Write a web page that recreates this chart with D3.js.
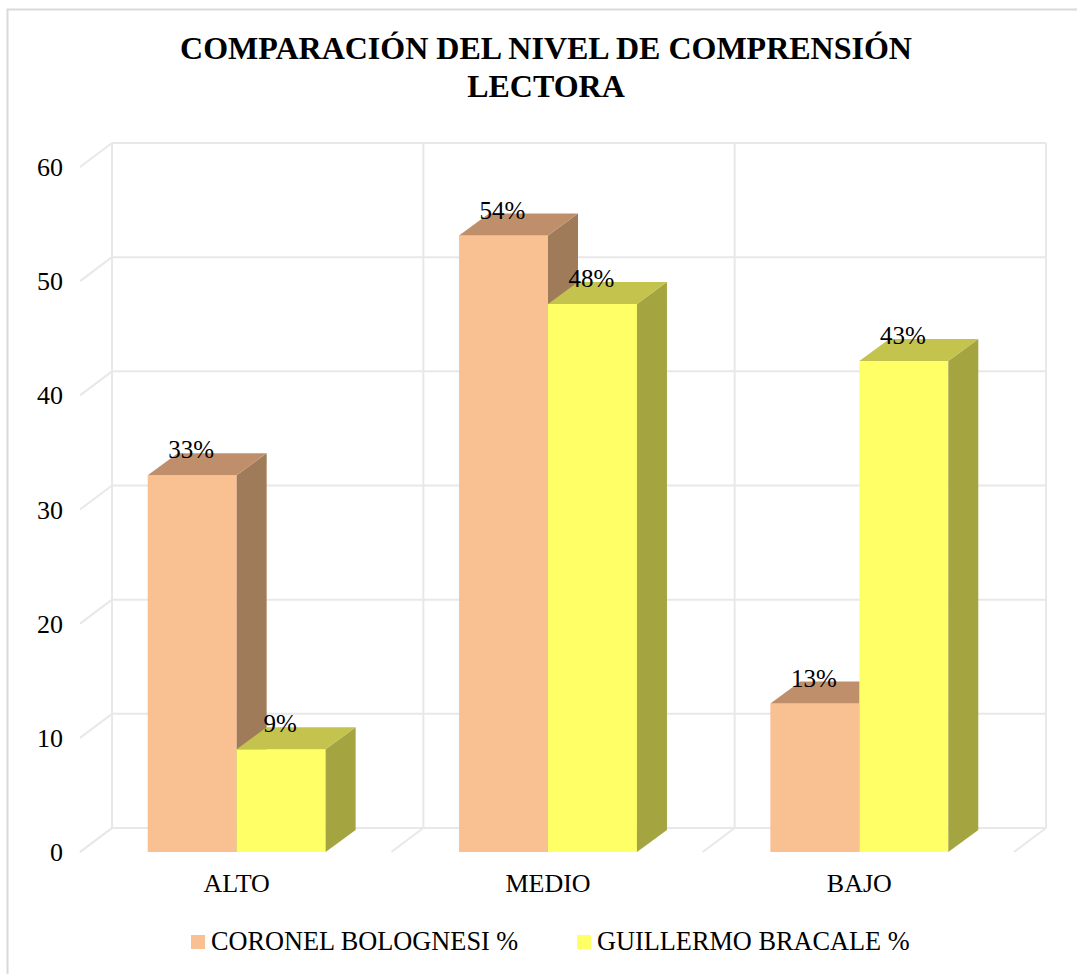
<!DOCTYPE html>
<html>
<head>
<meta charset="utf-8">
<script src="https://cdn.jsdelivr.net/npm/d3@7/dist/d3.min.js"></script>
</head>
<body style="margin:0;background:#fff">
<svg id="chart" width="1077" height="974" font-family="Liberation Serif" style="display:block"></svg>
<script>
// ---- data ----
const categories = ["ALTO", "MEDIO", "BAJO"];
const seriesNames = ["CORONEL BOLOGNESI %", "GUILLERMO BRACALE %"];
const coronelValues = [33, 54, 13];
const guillermoValues = [9, 48, 43];
const yTicks = [0, 10, 20, 30, 40, 50, 60];
const titleLines = ["COMPARACIÓN DEL NIVEL DE COMPRENSIÓN", "LECTORA"];

// ---- styles ----
const palette = [
  { front: "#f9c191", top: "#bf8f6c", side: "#a07b5a" },
  { front: "#ffff66", top: "#c3c34d", side: "#a4a440" }
];
const gridColor = "#e8e8e8";
const FONT = "Liberation Serif";

const svg = d3.select("#chart");

// outer border
svg.append("rect")
  .attr("x", 7.5).attr("y", 9.5)
  .attr("width", 1090).attr("height", 980)
  .attr("fill", "none").attr("stroke", "#d9d9d9").attr("stroke-width", 2);

// scales
const x = d3.scaleBand().domain(categories).range([80, 1014]).padding(0);
const xs = d3.scaleBand().domain(seriesNames).range([0, x.bandwidth()])
  .paddingInner(0).paddingOuter(0.75);
const y = d3.scaleLinear().domain([0, 60]).range([852, 167]);

const DX = 32, DY = -24;   // wall depth
const BDX = 30, BDY = -22; // bar depth

const grid = svg.append("g").attr("stroke", gridColor).attr("stroke-width", 2).attr("fill", "none");

// back wall horizontal gridlines + side wall diagonals
yTicks.forEach(v => {
  grid.append("line")
    .attr("x1", x.range()[0] + DX).attr("x2", x.range()[1] + DX)
    .attr("y1", y(v) + DY).attr("y2", y(v) + DY);
  grid.append("line")
    .attr("x1", x.range()[0]).attr("y1", y(v))
    .attr("x2", x.range()[0] + DX).attr("y2", y(v) + DY);
});

// category boundaries: back wall verticals & floor diagonals
const boundaries = categories.map(c => x(c)).concat([x.range()[1]]);
boundaries.forEach(bx => {
  grid.append("line")
    .attr("x1", bx + DX).attr("x2", bx + DX)
    .attr("y1", y(60) + DY).attr("y2", y(0) + DY);
  grid.append("line")
    .attr("x1", bx).attr("y1", y(0))
    .attr("x2", bx + DX).attr("y2", y(0) + DY);
});

// y tick labels
svg.append("g").selectAll("text").data(yTicks).join("text")
  .attr("x", 63).attr("y", d => y(d) + 9)
  .attr("text-anchor", "end")
  .attr("font-family", FONT)
  .attr("font-size", 26)
  .text(d => d);

// bars
const seriesValues = [coronelValues, guillermoValues];
const barsG = svg.append("g");
categories.forEach((c, ci) => {
  seriesNames.forEach((s, si) => {
    const v = seriesValues[si][ci];
    const x0 = x(c) + xs(s) + 1;
    const x1 = x0 + xs.bandwidth();
    const y0 = y(0), y1 = y(v);
    const col = palette[si];
    const g = barsG.append("g");
    g.append("path")
      .attr("d", `M${x0},${y0}L${x0},${y1}L${x1},${y1}L${x1},${y0}Z`)
      .attr("fill", col.front);
    g.append("path")
      .attr("d", `M${x1},${y0}L${x1},${y1}L${x1 + BDX},${y1 + BDY}L${x1 + BDX},${y0 + BDY}Z`)
      .attr("fill", col.side);
    g.append("path")
      .attr("d", `M${x0},${y1}L${x1},${y1}L${x1 + BDX},${y1 + BDY}L${x0 + BDX},${y1 + BDY}Z`)
      .attr("fill", col.top);
  });
});

// value labels
categories.forEach((c, ci) => {
  seriesNames.forEach((s, si) => {
    const v = seriesValues[si][ci];
    svg.append("text")
      .attr("x", x(c) + xs(s) + xs.bandwidth() / 2)
      .attr("y", y(v) - 17)
      .attr("text-anchor", "middle")
      .attr("font-family", FONT)
      .attr("font-size", 25)
      .text(v + "%");
  });
});

// category labels
svg.append("g").selectAll("text").data(categories).join("text")
  .attr("x", d => x(d) + x.bandwidth() / 2 + 1)
  .attr("y", 892)
  .attr("text-anchor", "middle")
  .attr("font-family", FONT)
  .attr("font-size", 26)
  .text(d => d);

// title
svg.append("g").selectAll("text").data(titleLines).join("text")
  .attr("x", 546).attr("y", (d, i) => 59 + i * 38)
  .attr("text-anchor", "middle")
  .attr("font-family", FONT)
  .attr("font-size", 32).attr("font-weight", "bold")
  .text(d => d);

// legend
const legendX = [191, 577];
const lg = svg.append("g");
seriesNames.forEach((s, i) => {
  lg.append("rect").attr("x", legendX[i]).attr("y", 935)
    .attr("width", 14).attr("height", 14).attr("fill", palette[i].front);
  lg.append("text").attr("x", legendX[i] + 20).attr("y", 950)
    .attr("font-family", FONT)
    .attr("font-size", 26.3).text(s);
});
</script>
</body>
</html>
